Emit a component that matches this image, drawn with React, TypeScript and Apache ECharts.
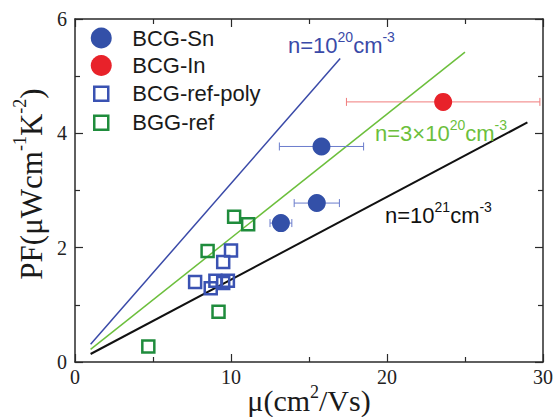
import React, { useEffect, useRef } from "react";
import * as echarts from "echarts";

// ---- data ----
const xTicks = [0, 10, 20, 30];
const yTicks = [0, 2, 4, 6];

// [mobility, PF, x-error half width]
const bcgSn: number[][] = [
  [13.2, 2.43, 0.7],
  [15.5, 2.78, 1.45],
  [15.8, 3.77, 2.7],
];
const bcgIn: number[][] = [[23.6, 4.55, 6.2]];

const bcgRefPoly: number[][] = [
  [7.7, 1.4],
  [8.7, 1.29],
  [9.0, 1.42],
  [9.5, 1.38],
  [9.8, 1.42],
  [9.5, 1.75],
  [10.0, 1.95],
];
const bggRef: number[][] = [
  [4.7, 0.27],
  [9.2, 0.88],
  [8.5, 1.94],
  [10.2, 2.54],
  [11.1, 2.41],
];

const line1e20: number[][] = [
  [1, 0.31],
  [17, 5.31],
];
const line3e20: number[][] = [
  [1, 0.22],
  [25, 5.42],
];
const line1e21: number[][] = [
  [1, 0.14],
  [29, 4.19],
];

const seriesNames = ["BCG-Sn", "BCG-In", "BCG-ref-poly", "BGG-ref"];

const BLUE = "#3350a8";
const RED = "#e8222a";
const BLUE_SQ = "#3a52b2";
const GREEN_SQ = "#1f8c3c";
const BLUE_LINE = "#3a4aa8";
const GREEN_LINE = "#6cbf3c";
const AXIS = "#2a2a2a";
const SANS = "Liberation Sans, Arial, sans-serif";
const SERIF = "Liberation Serif, Times New Roman, serif";

function errorBar(color: string) {
  return (params: any, api: any) => {
    const x = api.value(0);
    const y = api.value(1);
    const e = api.value(2);
    const p1 = api.coord([x - e, y]);
    const p2 = api.coord([x + e, y]);
    const h = 4;
    const style = { stroke: color, lineWidth: 1 };
    return {
      type: "group",
      children: [
        { type: "line", shape: { x1: p1[0], y1: p1[1], x2: p2[0], y2: p2[1] }, style },
        { type: "line", shape: { x1: p1[0], y1: p1[1] - h, x2: p1[0], y2: p1[1] + h }, style },
        { type: "line", shape: { x1: p2[0], y1: p2[1] - h, x2: p2[0], y2: p2[1] + h }, style },
      ],
    };
  };
}

function annot(x: number, y: number, text: string, color: string) {
  return {
    type: "text",
    x,
    y,
    z: 50,
    silent: true,
    style: {
      text,
      fill: color,
      align: "left",
      verticalAlign: "top",
      rich: {
        a: { fontFamily: SANS, fontSize: 22, lineHeight: 30, fill: color },
        s: { fontFamily: SANS, fontSize: 14, lineHeight: 12, verticalAlign: "top", fill: color },
      },
    },
  };
}

export default function App() {
  const ref = useRef<HTMLDivElement>(null);
  useEffect(() => {
    document.body.style.margin = "0";
    if (!ref.current) return;
    const chart = echarts.init(ref.current, null, { renderer: "svg" });

    const axisCommon = {
      type: "value",
      axisLine: { show: true, onZero: false, lineStyle: { color: AXIS, width: 1.5 } },
      axisTick: { show: true, inside: true, length: 8, lineStyle: { color: AXIS, width: 1.2 } },
      minorTick: { show: true, splitNumber: 2, length: 5, lineStyle: { color: AXIS, width: 1.2 } },
      splitLine: { show: false },
      minorSplitLine: { show: false },
    };

    const squareIcon = "path://M0,0M52,21M19,3.5h14v14h-14z";

    chart.setOption({
      animation: false,
      backgroundColor: "#ffffff",
      grid: { left: 75, right: 12, top: 19, bottom: 55, containLabel: false },
      xAxis: [
        {
          ...axisCommon,
          position: "bottom",
          min: xTicks[0],
          max: xTicks[xTicks.length - 1],
          interval: xTicks[1] - xTicks[0],
          axisLabel: { margin: 5, fontFamily: SERIF, fontSize: 20, color: "#222" },
        },
        {
          ...axisCommon,
          position: "top",
          min: xTicks[0],
          max: xTicks[xTicks.length - 1],
          interval: xTicks[1] - xTicks[0],
          axisLabel: { show: false },
        },
      ],
      yAxis: [
        {
          ...axisCommon,
          position: "left",
          min: yTicks[0],
          max: yTicks[yTicks.length - 1],
          interval: yTicks[1] - yTicks[0],
          axisLabel: { margin: 8, fontFamily: SERIF, fontSize: 20, color: "#222" },
        },
        {
          ...axisCommon,
          position: "right",
          min: yTicks[0],
          max: yTicks[yTicks.length - 1],
          interval: yTicks[1] - yTicks[0],
          axisLabel: { show: false },
        },
      ],
      legend: {
        orient: "vertical",
        left: 69,
        top: 22,
        itemWidth: 52,
        itemHeight: 21,
        itemGap: 5.5,
        textStyle: { fontFamily: SANS, fontSize: 22, color: "#1a1a1a" },
        data: [
          { name: seriesNames[0], icon: "circle", itemStyle: { color: BLUE, borderWidth: 0 } },
          { name: seriesNames[1], icon: "circle", itemStyle: { color: RED, borderWidth: 0 } },
          {
            name: seriesNames[2],
            icon: squareIcon,
            itemStyle: { color: "rgba(0,0,0,0)", borderColor: BLUE_SQ, borderWidth: 2.5 },
          },
          {
            name: seriesNames[3],
            icon: squareIcon,
            itemStyle: { color: "rgba(0,0,0,0)", borderColor: GREEN_SQ, borderWidth: 2.5 },
          },
        ],
      },
      series: [
        {
          type: "line",
          name: "n=1e20",
          data: line1e20,
          showSymbol: false,
          silent: true,
          z: 2,
          lineStyle: { color: BLUE_LINE, width: 1.5 },
        },
        {
          type: "line",
          name: "n=3e20",
          data: line3e20,
          showSymbol: false,
          silent: true,
          z: 2,
          lineStyle: { color: GREEN_LINE, width: 1.5 },
        },
        {
          type: "line",
          name: "n=1e21",
          data: line1e21,
          showSymbol: false,
          silent: true,
          z: 2,
          lineStyle: { color: "#111", width: 2 },
        },
        {
          type: "custom",
          name: "errSn",
          data: bcgSn,
          encode: { x: 0, y: 1 },
          renderItem: errorBar("#6a7ccc"),
          z: 3,
          silent: true,
        },
        {
          type: "custom",
          name: "errIn",
          data: bcgIn,
          encode: { x: 0, y: 1 },
          renderItem: errorBar("#f07c7c"),
          z: 3,
          silent: true,
        },
        {
          type: "scatter",
          name: seriesNames[0],
          data: bcgSn.map((d) => [d[0], d[1]]),
          symbol: "circle",
          symbolSize: 18,
          z: 4,
          itemStyle: { color: BLUE, opacity: 1 },
        },
        {
          type: "scatter",
          name: seriesNames[1],
          data: bcgIn.map((d) => [d[0], d[1]]),
          symbol: "circle",
          symbolSize: 18,
          z: 4,
          itemStyle: { color: RED, opacity: 1 },
        },
        {
          type: "scatter",
          name: seriesNames[2],
          data: bcgRefPoly,
          symbol: "rect",
          symbolSize: 12,
          z: 4,
          itemStyle: { color: "rgba(0,0,0,0)", borderColor: BLUE_SQ, borderWidth: 2.5, opacity: 1 },
        },
        {
          type: "scatter",
          name: seriesNames[3],
          data: bggRef,
          symbol: "rect",
          symbolSize: 12,
          z: 4,
          itemStyle: { color: "rgba(0,0,0,0)", borderColor: GREEN_SQ, borderWidth: 2.5, opacity: 1 },
        },
      ],
      graphic: [
        annot(288, 30, "{a|n=10}{s|20}{a|cm}{s|-3}", BLUE_LINE),
        annot(375, 118, "{a|n=3×10}{s|20}{a|cm}{s|-3}", GREEN_LINE),
        annot(385, 200, "{a|n=10}{s|21}{a|cm}{s|-3}", "#111"),
        {
          type: "text",
          x: 31,
          y: 184,
          rotation: Math.PI / 2,
          silent: true,
          style: {
            text: "{a|PF(μWcm}{s|-1}{a|K}{s|-2}{a|)}",
            fill: "#1a1a1a",
            align: "center",
            verticalAlign: "middle",
            rich: {
              a: { fontFamily: SERIF, fontSize: 31, lineHeight: 40, fill: "#1a1a1a" },
              s: { fontFamily: SERIF, fontSize: 18, lineHeight: 26, verticalAlign: "top", fill: "#1a1a1a" },
            },
          },
        },
        {
          type: "text",
          x: 309,
          y: 383,
          silent: true,
          style: {
            text: "{a|μ(cm}{s|2}{a|/Vs)}",
            fill: "#1a1a1a",
            align: "center",
            verticalAlign: "top",
            rich: {
              a: { fontFamily: SERIF, fontSize: 30, lineHeight: 34, fill: "#1a1a1a" },
              s: { fontFamily: SERIF, fontSize: 18, lineHeight: 22, verticalAlign: "top", fill: "#1a1a1a" },
            },
          },
        },
      ],
    });
    return () => chart.dispose();
  }, []);
  return <div ref={ref} style={{ width: 556, height: 417 }} />;
}
